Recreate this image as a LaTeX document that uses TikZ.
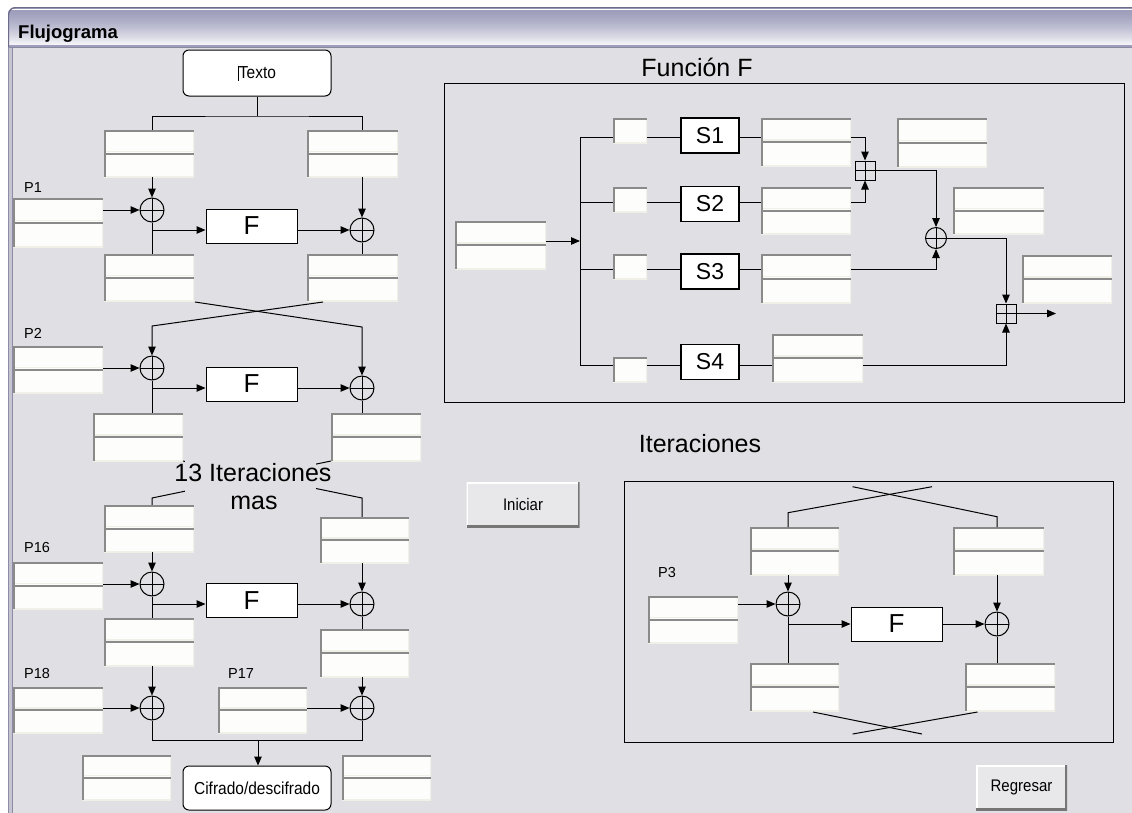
\documentclass[tikz,border=0pt]{standalone}
\usepackage{fontspec}
\setmainfont{Liberation Sans}
\usetikzlibrary{arrows.meta,calc}

\definecolor{bgc}{HTML}{E0DFE3}
\definecolor{ffill}{HTML}{FDFDFB}
\definecolor{fdark}{HTML}{8A8A8A}
\definecolor{flight}{HTML}{F1F0E8}
\definecolor{btnf}{HTML}{E8E8EB}
\definecolor{btnd}{HTML}{767676}
\definecolor{tbtop}{HTML}{9E9EBC}
\definecolor{tbbot}{HTML}{F4F4F8}
\definecolor{tbline}{HTML}{6C6C8A}
\definecolor{bord}{HTML}{C4C4D2}
\definecolor{bordd}{HTML}{8C8CA4}

\newcommand{\tallx}[1]{\scalebox{1}[1.12]{#1}}

\tikzset{
  ln/.style={line width=1pt, black},
  arr/.style={ln, -{Triangle[length=9pt,width=7.5pt]}},
  % two stacked sunken text fields
  dfield/.style={rectangle, inner sep=0pt, outer sep=0pt,
    minimum width=90pt, minimum height=47pt,
    path picture={
      \fill[ffill] (path picture bounding box.south west) rectangle (path picture bounding box.north east);
      \draw[flight, line width=2.5pt] (path picture bounding box.north east) -- (path picture bounding box.south east) -- (path picture bounding box.south west);
      \draw[flight, line width=1.5pt] ($(path picture bounding box.west)+(0,-1.8)$) -- ($(path picture bounding box.east)+(0,-1.8)$);
      \draw[fdark, line width=4pt] (path picture bounding box.south west) -- (path picture bounding box.north west) -- (path picture bounding box.north east);
      \draw[fdark, line width=2pt] ($(path picture bounding box.west)+(0,0.2)$) -- ($(path picture bounding box.east)+(0,0.2)$);
    }},
  % a single sunken text field
  sfield/.style={rectangle, inner sep=0pt, outer sep=0pt,
    minimum width=34pt, minimum height=25pt,
    path picture={
      \fill[ffill] (path picture bounding box.south west) rectangle (path picture bounding box.north east);
      \draw[flight, line width=2.5pt] (path picture bounding box.north east) -- (path picture bounding box.south east) -- (path picture bounding box.south west);
      \draw[fdark, line width=4pt] (path picture bounding box.south west) -- (path picture bounding box.north west) -- (path picture bounding box.north east);
    }},
  btn/.style={rectangle, fill=btnf, inner sep=0pt, outer sep=0pt,
    font=\fontsize{15}{15}\selectfont,
    path picture={
      \draw[white, line width=3pt] (path picture bounding box.south west) -- (path picture bounding box.north west) -- (path picture bounding box.north east);
      \draw[btnd, line width=4pt] (path picture bounding box.north east) -- (path picture bounding box.south east) -- (path picture bounding box.south west);
    }},
  rbox/.style={rectangle, draw, line width=1pt, fill=white, rounded corners=6pt,
    inner sep=0pt, font=\fontsize{15.5}{15.5}\selectfont},
  xorc/.style={circle, draw, line width=1pt, minimum size=24pt, inner sep=0pt,
    path picture={
      \draw[line width=1pt] (path picture bounding box.north) -- (path picture bounding box.south)
        (path picture bounding box.west) -- (path picture bounding box.east);
    }},
  bplus/.style={rectangle, draw, line width=1pt, minimum width=20pt, minimum height=19pt, inner sep=0pt,
    path picture={
      \draw[line width=1pt] (path picture bounding box.north) -- (path picture bounding box.south)
        (path picture bounding box.west) -- (path picture bounding box.east);
    }},
  fbox/.style={rectangle, draw, line width=1pt, fill=white, minimum width=91pt, minimum height=34pt,
    inner sep=0pt, font=\fontsize{26}{26}\selectfont},
  sbox/.style={rectangle, draw, line width=1.3pt, fill=white, minimum width=58pt, minimum height=35pt,
    inner sep=0pt, font=\fontsize{23}{23}\selectfont},
  lbl/.style={anchor=base west, inner sep=0pt, font=\fontsize{14.5}{14.5}\selectfont},
  big/.style={anchor=base, inner sep=0pt, font=\fontsize{25}{25}\selectfont},
  frame/.style={rectangle, draw, line width=1pt, inner sep=0pt},
}

\begin{document}
\begin{tikzpicture}[x=1pt,y=-1pt]
\useasboundingbox (0,0) rectangle (1132,812);
\fill[white] (0,0) rectangle (1132,812);

% window title bar
\begin{scope}
  \clip[rounded corners=7pt] (8,60) -- (8,7) -- (1150,7) -- (1150,60) -- cycle;
  \fill[tbtop] (0,7) rectangle (1150,48);
  \foreach \i in {0,...,34}{
    \pgfmathtruncatemacro{\p}{round(100*(\i/34)^1.4)}
    \fill[tbbot!\p!tbtop] (0,10+\i) rectangle (1150,11.2+\i);
  }
  \draw[white, line width=1pt] (0,9.3) -- (1150,9.3);
\end{scope}
\draw[tbline, line width=1.2pt, rounded corners=7pt] (8.6,48) -- (8.6,7.6) -- (1150,7.6);
\node[anchor=base west, inner sep=0pt, font=\fontsize{18.5}{18.5}\selectfont\bfseries] (ttl) at (18,38) {Flujograma};

% window body and left border
\fill[bgc] (8,48) rectangle (1150,830);
\draw[tbline!80, line width=1.5pt] (8,47.5) -- (1150,47.5);
\fill[bord] (8,48) rectangle (13,830);
\draw[bordd, line width=1.2pt] (8.6,48) -- (8.6,830);
\draw[bordd, line width=1pt] (12.2,48) -- (12.2,830);

% ---------------- left column: the Feistel rounds ----------------
\node[rbox, minimum width=148pt, minimum height=46pt] (texto) at (257,73)
  {\rule[-2pt]{1pt}{15pt}\tallx{Texto}};
\coordinate (tsplit) at (257,116);
\node[dfield] (bA) at (149,153.5) {};
\node[dfield, minimum width=91pt] (bB) at (352.5,153.5) {};
\node[xorc] (xl1) at (152,210) {};
\node[xorc] (xr1) at (362,230) {};
\node[lbl] (p1) at (24,192) {P1};
\node[dfield, minimum height=49pt] (bP1) at (58,222.5) {};
\node[fbox] (F1) at (251.5,226) {F};
\node[dfield] (bC) at (149,277.5) {};
\node[dfield, minimum width=91pt] (bD) at (352.5,277.5) {};

\draw[ln] (texto.south) -- (tsplit);
\draw[ln] (xl1 |- bA.north) |- (tsplit) -| (xr1 |- bB.north);
\draw[arr] (xl1 |- bA.south) -- (xl1.north);
\draw[arr] (xr1 |- bB.south) -- (xr1.north);
\draw[arr] (bP1.east |- xl1) -- (xl1.west);
\draw[arr] (xl1 |- xr1) -- (F1.west |- xr1);
\draw[arr] (F1.east |- xr1) -- (xr1.west);
\draw[ln] (xl1.south) -- (xl1 |- bC.north);
\draw[ln] (xr1.south) -- (xr1 |- bD.north);

% swap into round 2
\node[xorc] (xl2) at (152,368) {};
\node[xorc] (xr2) at (362,388) {};
\coordinate (c1a) at (195,302);
\coordinate (c1b) at (323,302);
\coordinate (k1) at (362,327);
\coordinate (k2) at (152,326);
\draw[arr] (c1a) -- (k1) -- (xr2.north);
\draw[arr] (c1b) -- (k2) -- (xl2.north);

\node[lbl] (p2) at (24,338) {P2};
\node[dfield] (bP2) at (58,369.5) {};
\node[fbox] (F2) at (251.5,384) {F};
\draw[arr] (bP2.east |- xl2) -- (xl2.west);
\draw[arr] (xl2 |- xr2) -- (F2.west |- xr2);
\draw[arr] (F2.east |- xr2) -- (xr2.west);
\node[dfield, minimum height=48pt] (bE) at (138,437) {};
\node[dfield, minimum height=48pt] (bG) at (376,437) {};
\draw[ln] (xl2.south) -- (xl2 |- bE.north);
\draw[ln] (xr2.south) -- (xr2 |- bG.north);

% swap hidden behind the caption
\coordinate (k3) at (152,498);
\coordinate (k4) at (362,498);
\draw[ln] (bG.south west) -- (k3) -- (152,505);
\draw[ln] (bE.south east) -- (k4) -- (362,517);
\fill[bgc] (185,457) rectangle (316,503);
\node[big] (it13) at (253,481) {13 Iteraciones};
\node[big] (itmas) at (254,509) {mas};

\node[dfield] (bH) at (149,528.5) {};
\node[dfield, minimum width=89pt, minimum height=46pt] (bJ) at (364.5,540) {};

% round 16
\node[lbl] (p16) at (24,552) {P16};
\node[dfield] (bP16) at (58,585.5) {};
\node[xorc] (xl3) at (152,584) {};
\node[xorc] (xr3) at (362,604) {};
\node[fbox] (F3) at (251.5,600.5) {F};
\draw[arr] (xl3 |- bH.south) -- (xl3.north);
\draw[arr] (xr3 |- bJ.south) -- (xr3.north);
\draw[arr] (bP16.east |- xl3) -- (xl3.west);
\draw[arr] (xl3 |- xr3) -- (F3.west |- xr3);
\draw[arr] (F3.east |- xr3) -- (xr3.west);
\node[dfield, minimum height=48pt] (bK) at (149,642) {};
\node[dfield, minimum width=89pt, minimum height=48pt] (bL) at (364.5,653) {};
\draw[ln] (xl3.south) -- (xl3 |- bK.north);
\draw[ln] (xr3.south) -- (xr3 |- bL.north);

% output whitening
\node[lbl] (p18) at (24,678) {P18};
\node[lbl] (p17) at (228,678) {P17};
\node[dfield, minimum height=46pt] (bP18) at (58,710) {};
\node[dfield, minimum width=89pt, minimum height=46pt] (bP17) at (262.5,710) {};
\node[xorc] (xl4) at (152,708) {};
\node[xorc] (xr4) at (362,708) {};
\draw[arr] (xl4 |- bK.south) -- (xl4.north);
\draw[arr] (xr4 |- bL.south) -- (xr4.north);
\draw[arr] (bP18.east |- xl4) -- (xl4.west);
\draw[arr] (bP17.east |- xr4) -- (xr4.west);
\coordinate (join) at (258,740);
\node[rbox, minimum width=148pt, minimum height=44pt] (cif) at (257,788) {\tallx{Cifrado/descifrado}};
\draw[ln] (xl4.south) |- (join) -| (xr4.south);
\draw[arr] (join) -- (join |- cif.north);
\node[dfield, minimum width=89pt, minimum height=45pt] (bM) at (126.5,777.5) {};
\node[dfield, minimum width=89pt, minimum height=45pt] (bN) at (386.5,777.5) {};

% ---------------- round function F ----------------
\node[big] (tF) at (697,76) {Función F};
\node[frame, minimum width=680pt, minimum height=319pt] (frameF) at (784,242.5) {};
\node[dfield, minimum width=91pt, minimum height=48pt] (fin) at (500.5,245) {};
\coordinate (busin) at (580,241);
\draw[arr] (fin.east |- busin) -- (busin);
\coordinate (r1) at (580,137);
\coordinate (r2) at (580,202);
\coordinate (r3) at (580,269);
\coordinate (r4) at (580,365);
\draw[ln] (r1) -- (r4);

\node[sfield] (c1) at (630,130.5) {};
\node[sfield] (c2) at (630,199.5) {};
\node[sfield] (c3) at (630,266.5) {};
\node[sfield] (c4) at (630,369.5) {};
\node[sbox] (s1) at (710,135.5) {S1};
\node[sbox] (s2) at (710,204) {S2};
\node[sbox] (s3) at (710,271.5) {S3};
\node[sbox] (s4) at (710,362) {S4};
\node[dfield, minimum height=48pt] (d1) at (806,142) {};
\node[dfield] (d2) at (806,210.5) {};
\node[dfield, minimum height=49pt] (d3) at (806,278.5) {};
\node[dfield, minimum width=91pt, minimum height=48pt] (d4) at (817.5,358) {};

\foreach \i in {1,2,3,4}{
  \draw[ln] (r\i) -- (c\i.west |- r\i);
  \draw[ln] (c\i.east |- r\i) -- (s\i.west |- r\i);
  \draw[ln] (s\i.east |- r\i) -- (d\i.west |- r\i);
}

\node[bplus] (bp1) at (865,170.5) {};
\draw[arr] (d1.east |- r1) -| (bp1.north);
\draw[arr] (d2.east |- r2) -| (bp1.south);
\node[xorc, minimum size=21pt] (xf) at (936,238) {};
\draw[arr] (bp1.east) -| (xf.north);
\draw[arr] (d3.east |- r3) -| (xf.south);
\node[bplus] (bp2) at (1006,313.5) {};
\draw[arr] (xf.east) -| (bp2.north);
\draw[arr] (d4.east |- r4) -| (bp2.south);
\coordinate (fout) at (1056,313.5);
\draw[arr] (bp2.east) -- (fout);

\node[dfield, minimum height=49pt] (e1) at (942,142.5) {};
\node[dfield, minimum width=91pt] (e2) at (998.5,210.5) {};
\node[dfield, minimum height=48pt] (e3) at (1067,279) {};

% ---------------- one iteration ----------------
\node[big] (tIt) at (700,452) {Iteraciones};
\node[btn, minimum width=113pt, minimum height=45pt] (ini) at (523,504.5) {\tallx{Iniciar}};
\node[frame, minimum width=488.5pt, minimum height=261pt] (frameI) at (868.75,612.2) {};

\node[dfield, minimum width=89pt, minimum height=48pt] (g1) at (794.5,551) {};
\node[dfield, minimum width=91pt, minimum height=48pt] (g2) at (998.5,551) {};
\coordinate (ta1) at (852.6,486.7);
\coordinate (ta2) at (997,516.7);
\coordinate (tb1) at (932,486.7);
\coordinate (tb2) at (788,512.7);
\draw[ln] (ta1) -- (ta2) -- (ta2 |- g2.north);
\draw[ln] (tb1) -- (tb2) -- (tb2 |- g1.north);

\node[lbl] (p3) at (658,577) {P3};
\node[dfield] (gP3) at (693,619.5) {};
\node[xorc] (ixl) at (788,604) {};
\node[xorc] (ixr) at (997,624) {};
\node[fbox] (iF) at (896.5,624) {F};
\draw[arr] (ixl |- g1.south) -- (ixl.north);
\draw[arr] (ixr |- g2.south) -- (ixr.north);
\draw[arr] (gP3.east |- ixl) -- (ixl.west);
\draw[arr] (ixl |- iF) -- (iF.west);
\draw[arr] (iF.east) -- (ixr.west);
\node[dfield, minimum width=89pt, minimum height=48pt] (g3) at (794.5,687) {};
\node[dfield, minimum height=48pt] (g4) at (1010,687) {};
\draw[ln] (ixl.south) -- (ixl |- g3.north);
\draw[ln] (ixr.south) -- (ixr |- g4.north);
\coordinate (ba1) at (813,712);
\coordinate (ba2) at (922,734);
\coordinate (bb1) at (977.5,712);
\coordinate (bb2) at (852.6,734);
\draw[ln] (ba1) -- (ba2);
\draw[ln] (bb1) -- (bb2);

\node[btn, minimum width=91pt, minimum height=45pt] (reg) at (1021.5,787.5) {\tallx{Regresar}};
\end{tikzpicture}
\end{document}
